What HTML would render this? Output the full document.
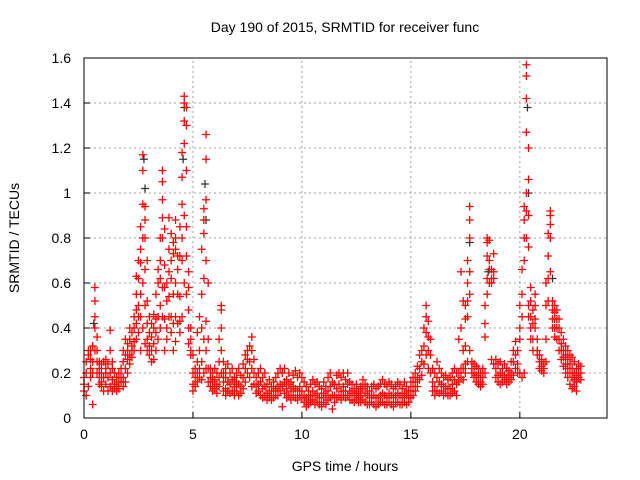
<!DOCTYPE html>
<html><head><meta charset="utf-8"><style>
body{margin:0;background:#fff;}
svg{display:block;font-family:"Liberation Sans",sans-serif;}
</style></head><body>
<svg id="chart" width="640" height="480" xmlns="http://www.w3.org/2000/svg">
<rect width="640" height="480" fill="#fff"/>
<text x="345" y="32" font-size="14" text-anchor="middle" fill="#000">Day 190 of 2015, SRMTID for receiver func</text>
<text x="345" y="471" font-size="14" text-anchor="middle" fill="#000">GPS time / hours</text>
<text transform="translate(19,238) rotate(-90)" font-size="14" text-anchor="middle" fill="#000">SRMTID / TECUs</text>
<g id="grid"></g>
<g id="ticks"></g>
<g id="black"></g>
<g id="red"></g>
<rect x="84" y="58" width="523" height="360" fill="none" stroke="#000" stroke-width="1"/>
</svg>
<script>
const xTicks=[0,5,10,15,20];
const yTicks=[0,0.2,0.4,0.6,0.8,1,1.2,1.4,1.6];
const yTickLabels=["0","0.2","0.4","0.6","0.8","1","1.2","1.4","1.6"];
const hours=[0.0,0.1,0.2,0.3,0.4,0.5,0.6,0.7,0.8,0.9,1.0,1.1,1.2,1.3,1.4,1.5,1.6,1.7,1.8,1.9,2.0,2.1,2.2,2.3,2.4,2.5,2.6,2.7,2.8,2.9,3.0,3.1,3.2,3.3,3.4,3.5,3.6,3.7,3.8,3.9,4.0,4.1,4.2,4.3,4.4,4.5,4.6,4.7,4.8,4.9,5.0,5.1,5.2,5.3,5.4,5.5,5.6,5.7,5.8,5.9,6.0,6.1,6.2,6.3,6.4,6.5,6.6,6.7,6.8,6.9,7.0,7.1,7.2,7.3,7.4,7.5,7.6,7.7,7.8,7.9,8.0,8.1,8.2,8.3,8.4,8.5,8.6,8.7,8.8,8.9,9.0,9.1,9.2,9.3,9.4,9.5,9.6,9.7,9.8,9.9,10.0,10.1,10.2,10.3,10.4,10.5,10.6,10.7,10.8,10.9,11.0,11.1,11.2,11.3,11.4,11.5,11.6,11.7,11.8,11.9,12.0,12.1,12.2,12.3,12.4,12.5,12.6,12.7,12.8,12.9,13.0,13.1,13.2,13.3,13.4,13.5,13.6,13.7,13.8,13.9,14.0,14.1,14.2,14.3,14.4,14.5,14.6,14.7,14.8,14.9,15.0,15.1,15.2,15.3,15.4,15.5,15.6,15.7,15.8,15.9,16.0,16.1,16.2,16.3,16.4,16.5,16.6,16.7,16.8,16.9,17.0,17.1,17.2,17.3,17.4,17.5,17.6,17.7,17.8,17.9,18.0,18.1,18.2,18.3,18.4,18.5,18.6,18.7,18.8,18.9,19.0,19.1,19.2,19.3,19.4,19.5,19.6,19.7,19.8,19.9,20.0,20.1,20.2,20.3,20.4,20.5,20.6,20.7,20.8,20.9,21.0,21.1,21.2,21.3,21.4,21.5,21.6,21.7,21.8,21.9,22.0,22.1,22.2,22.3,22.4,22.5,22.6,22.7,22.8];
const tecu=[
[.12,.15,.18],[.10,.20,.25],[.14,.28,.30],[.18,.30,.22,.26],[.06,.25,.32,.20],[.58,.52,.45,.40,.30],[.36,.25,.30,.20],[.15,.25,.22,.18],[.24,.20,.14,.16],[.25,.18,.12],
[.22,.15,.20,.26],[.12,.18,.24],[.39,.30,.20,.14],[.22,.17,.25,.12],[.15,.20,.13],[.18,.14,.12],[.20,.16,.13],[.22,.16,.18],[.30,.25,.18,.14],[.35,.28,.22,.16],
[.33,.30,.26,.20],[.40,.35,.28,.24],[.38,.32,.30,.27],[.45,.40,.34,.30],[.63,.55,.48,.42,.35],[.70,.62,.50,.45,.38],[.85,.75,.69,.55,.45,.30],[1.17,1.10,.95,.80,.60,.40],[.94,.88,.80,.66,.50,.33],[.70,.52,.42,.35,.30],
[.45,.38,.32,.28],[.42,.36,.30,.25],[.46,.40,.33,.26],[.55,.44,.38,.30],[.66,.60,.45,.35],[.80,.70,.62,.50,.40],[1.10,1.05,.97,.89,.80,.58,.45],[.84,.68,.58,.44,.30],[.60,.52,.40,.35],[.89,.75,.65,.54,.45],
[.82,.70,.62,.45,.38],[.78,.73,.55,.42,.30],[.88,.80,.75,.60,.45,.34],[.72,.66,.55,.42],[.85,.72,.54,.43,.38],[1.18,1.07,.95,.80,.70,.45],[1.43,1.40,1.32,1.22,.90,.60],[1.38,1.30,1.10,.85,.72,.55],[.65,.58,.48,.40,.33],[.40,.35,.30,.28],
[.28,.20,.15,.12],[.22,.18,.14],[.38,.25,.20,.16],[.45,.30,.22,.18],[.75,.55,.40,.25,.17],[.93,.88,.82,.62,.35,.20],[1.26,1.15,.97,.70,.43,.30,.22],[.60,.35,.22,.16],[.22,.18,.14],[.20,.16,.12],
[.22,.17,.13],[.20,.15,.11],[.35,.25,.18,.14],[.50,.48,.40,.30,.20],[.25,.20,.16,.12],[.22,.18,.13,.10],[.24,.16,.12],[.20,.15,.11],[.22,.17,.12],[.18,.14,.10],
[.20,.16,.12],[.22,.15,.10],[.19,.14,.11],[.24,.18,.13],[.28,.22,.16],[.30,.26,.20],[.32,.25,.18],[.36,.30,.22,.14],[.26,.20,.15],[.18,.14,.11],
[.20,.15,.12],[.22,.16,.10],[.18,.13,.09],[.20,.14,.10],[.15,.11,.08],[.17,.12,.09],[.14,.10,.08],[.16,.12,.09],[.18,.13,.10],[.20,.14,.10],
[.22,.15,.12],[.20,.14,.05],[.22,.16,.11],[.17,.13,.09],[.20,.15,.10],[.16,.12,.08],[.19,.14,.10],[.21,.13,.09],[.18,.12,.08],[.20,.14,.10],
[.18,.12,.09],[.16,.10,.07],[.14,.09,.05],[.12,.08,.06],[.15,.10,.07],[.17,.12,.08],[.15,.10,.06],[.16,.11,.07],[.14,.09,.06],[.13,.09,.05],
[.16,.11,.07],[.14,.10,.06],[.18,.12,.08],[.20,.14,.09],[.16,.10,.04],[.15,.10,.07],[.19,.13,.09],[.20,.15,.10],[.18,.12,.08],[.20,.14,.10],
[.17,.12,.09],[.20,.15,.10],[.16,.12,.08],[.15,.11,.08],[.13,.10,.07],[.15,.11,.08],[.12,.09,.07],[.14,.10,.07],[.17,.13,.08],[.15,.11,.07],
[.14,.10,.06],[.12,.09,.06],[.14,.10,.07],[.15,.10,.06],[.13,.09,.05],[.14,.09,.06],[.15,.10,.07],[.17,.11,.07],[.15,.10,.06],[.14,.09,.06],
[.16,.11,.07],[.15,.10,.06],[.13,.09,.05],[.14,.10,.07],[.16,.11,.07],[.15,.10,.06],[.13,.09,.06],[.16,.11,.07],[.14,.10,.06],[.12,.09,.07],
[.16,.12,.09],[.18,.14,.10],[.20,.16,.12],[.23,.18,.14],[.28,.22,.17],[.30,.25,.19],[.40,.32,.24],[.50,.45,.38,.28],[.43,.36,.30,.22],[.35,.28,.20],
[.22,.16,.12],[.20,.14,.10],[.25,.18,.12],[.22,.16,.11],[.20,.15,.12],[.18,.14,.10],[.19,.14,.11],[.17,.13,.10],[.18,.13,.10],[.20,.15,.11],
[.22,.17,.12],[.20,.15,.10],[.35,.20,.16],[.65,.40,.22,.18],[.52,.30,.22,.17],[.50,.44,.32,.24,.20],[.70,.60,.52,.45,.25],[.94,.88,.80,.65,.55,.30],[.25,.22,.20],[.24,.20,.18],
[.23,.19,.16],[.22,.18,.15],[.20,.16,.14],[.22,.18,.15],[.50,.42,.36,.20],[.80,.78,.72,.62,.55],[.79,.70,.66,.60],[.66,.62,.60,.26],[.73,.65,.62,.24],[.26,.22,.18],
[.24,.19,.16],[.25,.20,.15],[.22,.18,.16],[.24,.19,.17],[.22,.18,.15],[.21,.18,.16],[.25,.20,.17],[.30,.25,.19],[.34,.28,.22],[.30,.24,.20],
[.50,.40,.35,.20],[.66,.55,.45,.18],[.94,.88,.80,.70,.20],[1.57,1.52,1.42,1.27,1.00,.92,.80],[1.20,1.06,.90,.76,.50,.45],[.58,.52,.45,.40,.35],[.48,.42,.35,.30],[.55,.50,.44,.40],[.35,.30,.28],[.28,.25,.22],
[.26,.23,.21],[.24,.22,.20],[.60,.50,.35,.25],[.82,.72,.62,.52],[.92,.90,.86,.80,.65],[.52,.48,.44,.40],[.50,.47,.44,.40,.36],[.48,.44,.40,.35],[.44,.40,.35,.30],[.38,.33,.30,.26],
[.35,.30,.27,.23],[.32,.28,.24,.20],[.30,.26,.22,.18],[.28,.24,.20,.15],[.27,.22,.18,.13],[.25,.20,.17,.14],[.22,.19,.16,.12],[.24,.20,.18],[.23,.20,.17]];
const blackHours=[0.45,2.75,2.8,4.55,4.6,5.55,5.6,17.7,18.55,20.35,20.4,21.5,22.6];
const blackTecu=[0.42,1.15,1.02,1.15,1.38,1.04,0.88,0.78,0.65,1.38,1.00,0.62,0.16];

const NS='http://www.w3.org/2000/svg';
const X0=84,X1=607,Y0=418,Y1=58;
function xs(h){return X0+(h/24)*(X1-X0);}
function ys(v){return Y0-(v/1.6)*(Y0-Y1);}
const grid=document.getElementById('grid'),ticks=document.getElementById('ticks');
function mk(tag,attrs,parent){const e=document.createElementNS(NS,tag);for(const k in attrs)e.setAttribute(k,attrs[k]);parent.appendChild(e);return e;}
xTicks.forEach(t=>{
  const x=xs(t);
  if(t>0){const g=mk('line',{x1:x,x2:x,y1:Y0,y2:Y1,stroke:'#a0a0a0','stroke-dasharray':'2,3'},grid);
  
  }
  const l=mk('line',{x1:x,x2:x,y1:Y0,y2:Y0-6,stroke:'#000'},ticks);
  
  
  const tx=mk('text',{x:x,y:Y0+21,'font-size':14,'text-anchor':'middle'},ticks);tx.textContent=t;
  
  
});
yTicks.forEach((t,i)=>{
  const y=ys(t);
  if(t>0&&t<1.6){const g=mk('line',{x1:X0,x2:X1,y1:y,y2:y,stroke:'#a0a0a0','stroke-dasharray':'2,3'},grid);
  
  }
  const l=mk('line',{x1:X0,x2:X0+6,y1:y,y2:y,stroke:'#000'},ticks);
  
  
  const tx=mk('text',{x:X0-13,y:y+5,'font-size':14,'text-anchor':'end'},ticks);tx.textContent=yTickLabels[i];
  
  
});
function plus(g,h,v,col){
  const x=xs(h),y=ys(v);
  const p=mk('path',{d:`M${x-4},${y}H${x+4}M${x},${y-4}V${y+4}`,stroke:col,'stroke-width':1.3,fill:'none'},g);
  
  
}
const bg=document.getElementById('black'),rg=document.getElementById('red');
blackHours.forEach((h,i)=>plus(bg,h,blackTecu[i],'#333'));
hours.forEach((h,i)=>tecu[i].forEach(v=>plus(rg,h,v,'#ff0000')));
</script>
</body></html>
